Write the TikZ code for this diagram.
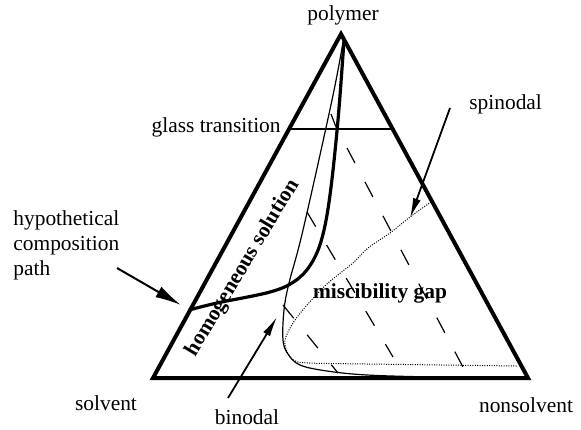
\documentclass[tikz,border=0pt]{standalone}
\usepackage{fontspec}
\setmainfont{Liberation Serif}
\usetikzlibrary{arrows.meta}
\begin{document}
\begin{tikzpicture}[x=0.5pt,y=-0.5pt,
  lbl/.style={inner sep=0pt, font=\fontsize{10.7}{12.5}\selectfont},
  boldlbl/.style={inner sep=0pt, font=\fontsize{10.7}{12.5}\selectfont\bfseries},
  tie/.style={line width=0.6pt, dash pattern=on 8.5pt off 10.7pt},
  pointer/.style={line width=0.9pt, -{Latex[length=10pt,width=4pt]}}]
\useasboundingbox (0,0) rectangle (581,429);
\node[coordinate] (P) at (341,34){};
\node[coordinate] (S) at (153,378){};
\node[coordinate] (N) at (528,378){};
\node[coordinate] (g1) at (289,129){};
\node[coordinate] (g2) at (392.5,129){};
\draw[line width=0.9pt](g1) -- (g2);
\draw[line width=0.6pt] plot[smooth, tension=0.6] coordinates {(343,42) (332,100) (303,230) (289,283) (284,310) (283,340) (288,354) (300,365) (327,371) (367,375) (430,377) (480,378)};
\draw[line width=0.6pt](331,114) -- (336,127);
\draw[line width=0.5pt, dash pattern=on 0.5pt off 0.7pt] plot[smooth, tension=0.5] coordinates {(431,202) (410,217) (390,233) (368,248) (353,263) (328,283) (307,305) (293,323) (285,340) (288,354) (298,362) (330,363.5)} -- (517,366);
\draw[tie](347,148) -- (464,369);
\draw[tie](307,212) -- (393,357);
\draw[tie](283,305) -- (338,373);
\draw[line width=1.6pt, line join=round] plot[smooth, tension=0.6] coordinates {(344,40) (338,120) (330,195) (322,238) (311,264) (295,281) (270,292) (217,303) (189,310)};
\draw[line width=2pt, line join=miter](P) -- (S) -- (N) -- cycle;
\node[lbl, anchor=base] (polymer) at (343,20) {polymer};
\node[lbl, anchor=base east] (glass) at (281,132) {glass transition};
\node[lbl, anchor=base west] (spinodal) at (469,109) {spinodal};
\node[lbl, anchor=north west, align=left] (path) at (13,210) {hypothetical\\composition\\path};
\node[lbl, anchor=base] (solvent) at (106,410) {solvent};
\node[lbl, anchor=base] (binodal) at (247,424) {binodal};
\node[lbl, anchor=base] (nonsolvent) at (526,412) {nonsolvent};
\node[boldlbl, anchor=base] (gap) at (380,298) {miscibility gap};
\node[boldlbl, rotate=59] (homog) at (243,268) {homogeneous solution};
\node[coordinate] (a1) at (117,268){};
\node[coordinate] (a2) at (181,305){};
\node[coordinate] (b1) at (228,398){};
\node[coordinate] (b2) at (277,317){};
\node[coordinate] (s1) at (450,108){};
\node[coordinate] (s2) at (410,218){};
\draw[line width=1pt, -{Latex[length=13pt,width=6pt]}](a1) -- (a2);
\draw[pointer](b1) -- (b2);
\draw[pointer](s1) -- (s2);
\end{tikzpicture}
\end{document}
